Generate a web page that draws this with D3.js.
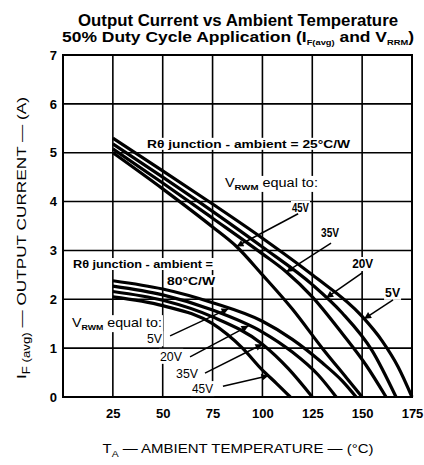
<!DOCTYPE html>
<html><head><meta charset="utf-8">
<script src="https://cdn.jsdelivr.net/npm/d3@7"></script>
<style>body{margin:0;background:#fff}svg{display:block}text{font-family:"Liberation Sans",Arial,sans-serif;fill:#000}</style>
</head><body>
<script>
// ---------- DATA ----------
const xTicks = [25, 50, 75, 100, 125, 150, 175];
const yTicks = [0, 1, 2, 3, 4, 5, 6, 7];

// Rθ junction-ambient = 25 °C/W family
const u5V_T  = [25, 50, 75, 100, 125, 150, 160, 168, 175];
const u5V_I  = [5.30, 4.63, 3.95, 3.25, 2.50, 1.65, 1.15, 0.62, 0];
const u20V_T = [25, 50, 75, 100, 125, 140, 155, 167];
const u20V_I = [5.18, 4.50, 3.80, 3.07, 2.30, 1.72, 0.95, 0];
const u35V_T = [25, 50, 75, 100, 112, 125, 140, 152, 162];
const u35V_I = [5.08, 4.38, 3.66, 2.93, 2.56, 2.05, 1.30, 0.65, 0];
const u45V_T = [25, 50, 75, 87, 100, 115, 130, 142, 150];
const u45V_I = [5.00, 4.26, 3.48, 3.08, 2.50, 1.80, 1.00, 0.40, 0];

// Rθ junction-ambient = 80 °C/W family
const l5V_T  = [25, 50, 75, 100, 115, 130, 140, 147];
const l5V_I  = [2.38, 2.21, 1.93, 1.55, 1.18, 0.70, 0.33, 0];
const l20V_T = [25, 50, 75, 100, 115, 128, 137];
const l20V_I = [2.27, 2.09, 1.78, 1.33, 0.92, 0.45, 0];
const l35V_T = [25, 50, 75, 100, 113, 125];
const l35V_I = [2.16, 1.98, 1.64, 1.08, 0.58, 0];
const l45V_T = [25, 50, 75, 90, 100, 107, 114];
const l45V_I = [2.05, 1.87, 1.50, 1.00, 0.55, 0.28, 0];

const seriesList = [
  {T: u5V_T, I: u5V_I}, {T: u20V_T, I: u20V_I}, {T: u35V_T, I: u35V_I}, {T: u45V_T, I: u45V_I},
  {T: l5V_T, I: l5V_I}, {T: l20V_T, I: l20V_I}, {T: l35V_T, I: l35V_I}, {T: l45V_T, I: l45V_I}
];

// arrows: [fromT, fromI, series index, tip T]
const arrows = [
  [117.9, 3.75, 3, 87], [134.4, 3.15, 2, 112], [150.0, 2.54, 1, 132], [165.5, 1.99, 0, 151],
  [53.7, 1.25, 4, 83], [63.7, 0.82, 5, 93], [71.2, 0.49, 6, 100], [80.2, 0.22, 7, 103]
];

// ---------- CHART ----------
const W = 424, H = 465;
const x = d3.scaleLinear().domain([0, 175]).range([63, 412]);
const y = d3.scaleLinear().domain([0, 7]).range([397, 55]);

const svg = d3.select("body").append("svg").attr("width", W).attr("height", H);

svg.append("defs").append("marker").attr("id", "ah")
  .attr("viewBox", "0 0 10 10").attr("refX", 10).attr("refY", 5)
  .attr("markerWidth", 9).attr("markerHeight", 7).attr("markerUnits", "userSpaceOnUse")
  .attr("orient", "auto")
  .append("path").attr("d", "M0,0L10,5L0,10z").attr("fill", "#000");

// grid
const grid = svg.append("g").attr("stroke", "#000").attr("stroke-width", 1.6);
grid.selectAll(".v").data(xTicks).join("line")
  .attr("x1", d => x(d)).attr("x2", d => x(d)).attr("y1", y(7)).attr("y2", y(0));
grid.selectAll(".h").data(yTicks).join("line")
  .attr("x1", x(0)).attr("x2", x(175)).attr("y1", d => y(d)).attr("y2", d => y(d));
svg.append("rect").attr("x", x(0)).attr("y", y(7)).attr("width", x(175) - x(0)).attr("height", y(0) - y(7))
  .attr("fill", "none").attr("stroke", "#000").attr("stroke-width", 2);

// axes tick labels
svg.append("g").attr("transform", `translate(0,${y(0)})`)
  .call(d3.axisBottom(x).tickValues(xTicks).tickFormat(d3.format("d")).tickSize(0).tickPadding(12))
  .call(g => g.select(".domain").remove())
  .selectAll("text").attr("font-size", 13).attr("font-weight", "bold").attr("font-family", "Liberation Sans, Arial, sans-serif");
svg.append("g").attr("transform", `translate(${x(0)},0)`)
  .call(d3.axisLeft(y).tickValues(yTicks).tickFormat(d3.format("d")).tickSize(0).tickPadding(6))
  .call(g => g.select(".domain").remove())
  .selectAll("text").attr("font-size", 13).attr("font-weight", "bold").attr("font-family", "Liberation Sans, Arial, sans-serif");

// titles
svg.append("text").attr("x", 238).attr("y", 26).attr("text-anchor", "middle")
  .attr("font-size", 16).attr("font-weight", "bold")
  .attr("textLength", 320).attr("lengthAdjust", "spacingAndGlyphs")
  .text("Output Current vs Ambient Temperature");
const t2 = svg.append("text").attr("x", 238).attr("y", 42).attr("text-anchor", "middle")
  .attr("font-size", 15).attr("font-weight", "bold")
  .attr("textLength", 352).attr("lengthAdjust", "spacingAndGlyphs");
t2.append("tspan").text("50% Duty Cycle Application (I");
t2.append("tspan").attr("font-size", 8).attr("dy", 3).text("F(avg)");
t2.append("tspan").attr("dy", -3).text(" and V");
t2.append("tspan").attr("font-size", 8).attr("dy", 3).text("RRM");
t2.append("tspan").attr("dy", -3).text(")");

const yt = svg.append("text").attr("transform", "translate(26,238) rotate(-90)").attr("text-anchor", "middle")
  .attr("font-size", 13).attr("textLength", 282).attr("lengthAdjust", "spacingAndGlyphs");
yt.append("tspan").text("I");
yt.append("tspan").attr("font-size", 10).attr("dy", 4).text("F (avg)");
yt.append("tspan").attr("dy", -4).text(" — OUTPUT CURRENT — (A)");

const xt = svg.append("text").attr("x", 238).attr("y", 453).attr("text-anchor", "middle")
  .attr("font-size", 13).attr("textLength", 271).attr("lengthAdjust", "spacingAndGlyphs");
xt.append("tspan").text("T");
xt.append("tspan").attr("font-size", 9).attr("dy", 4).text("A");
xt.append("tspan").attr("dy", -4).text(" — AMBIENT TEMPERATURE — (°C)");

// in-plot labels (positions in data units)
function label(T, I, parts, size, weight, len) {
  const g = svg.append("g");
  const bg = g.append("rect").attr("fill", "#fff");
  const t = g.append("text").attr("x", x(T)).attr("y", y(I)).attr("font-size", size).attr("font-weight", weight);
  if (len) t.attr("textLength", len).attr("lengthAdjust", "spacingAndGlyphs");
  parts.forEach(p => {
    if (typeof p === "string") t.append("tspan").text(p);
    else t.append("tspan").attr("font-size", p.size).attr("dy", p.dy).attr("font-weight", p.w || weight).text(p.t);
  });
  const b = t.node().getBBox();
  bg.attr("x", b.x - 1).attr("y", b.y).attr("width", b.width + 2).attr("height", b.height);
}
label(42.1, 5.1, ["Rθ junction - ambient = 25°C/W"], 11.5, "bold", 203);
label(81.2, 4.3, ["V", {t: "RWM", size: 8, dy: 3, w: "bold"}, {t: " equal to:", size: 12, dy: -3}], 12, "normal", 93);
label(114.8, 3.79, ["45V"], 12, "bold", 17);
label(129.4, 3.27, ["35V"], 12, "bold", 18);
label(145.0, 2.64, ["20V"], 12, "bold", 21);
label(161.5, 2.05, ["5V"], 12, "bold", 15);
label(5.0, 2.64, ["Rθ junction - ambient ="], 11.5, "bold", 140);
label(52.2, 2.29, ["80°C/W"], 11.5, "bold", 48);
label(4.5, 1.43, ["V", {t: "RWM", size: 8, dy: 3, w: "bold"}, {t: " equal to:", size: 13, dy: -3}], 13, "normal", 90);
label(42.1, 1.10, ["5V"], 13, "normal", 15);
label(48.6, 0.74, ["20V"], 13, "normal", 22);
label(56.7, 0.39, ["35V"], 13, "normal", 22);
label(64.7, 0.08, ["45V"], 13, "normal", 21);

// curves
const line = d3.line().x(d => x(d[0])).y(d => y(d[1])).curve(d3.curveMonotoneX);
svg.append("g").selectAll("path").data(seriesList).join("path")
  .attr("d", s => line(s.T.map((t, i) => [t, s.I[i]])))
  .attr("fill", "none").attr("stroke", "#000").attr("stroke-width", 3.2);

// arrows
function interp(s, t) {
  for (let i = 1; i < s.T.length; i++) {
    if (t <= s.T[i]) { const f = (t - s.T[i - 1]) / (s.T[i] - s.T[i - 1]); return s.I[i - 1] + f * (s.I[i] - s.I[i - 1]); }
  }
  return 0;
}
svg.append("g").selectAll("line").data(arrows).join("line")
  .attr("x1", d => x(d[0])).attr("y1", d => y(d[1]))
  .attr("x2", d => x(d[3])).attr("y2", d => y(interp(seriesList[d[2]], d[3])))
  .attr("stroke", "#000").attr("stroke-width", 1.5).attr("marker-end", "url(#ah)");
</script>
</body></html>
